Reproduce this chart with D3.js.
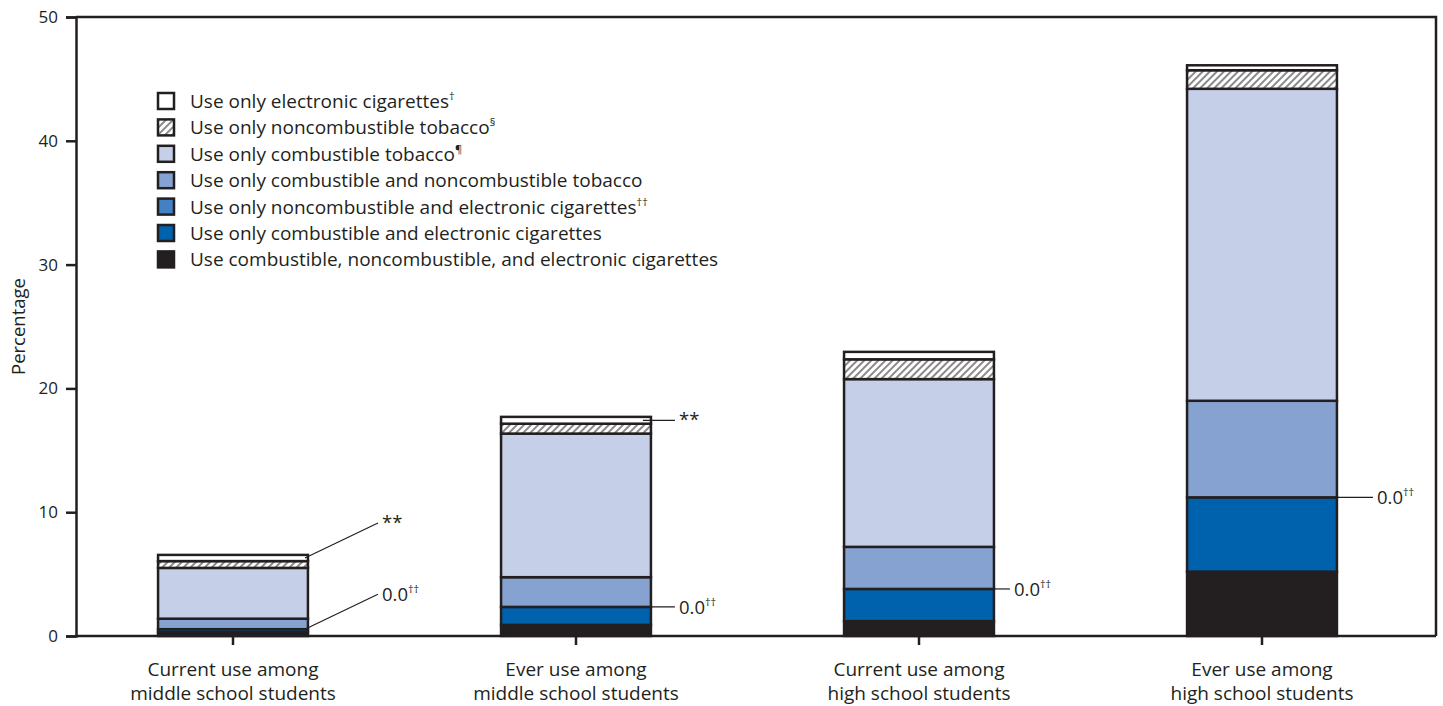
<!DOCTYPE html>
<html>
<head>
<meta charset="utf-8">
<script src="https://cdn.jsdelivr.net/npm/d3@7"></script>
<style>
  body { margin: 0; background: #fff; }
  text { font-family: "Open Sans", "Noto Sans", sans-serif; fill: #231f20; }
</style>
</head>
<body>
<script>
// data
const categories = ['cur_ms', 'ever_ms', 'cur_hs', 'ever_hs'];
const categoryLabels = [
  ['Current use among', 'middle school students'],
  ['Ever use among', 'middle school students'],
  ['Current use among', 'high school students'],
  ['Ever use among', 'high school students']
];
// series, bottom of stack first
const allThree    = [0.3, 0.9, 1.2, 5.2];
const combElec    = [0.25, 1.45, 2.6, 6.0];
const noncombElec = [0.0, 0.0, 0.0, 0.0];
const combNoncomb = [0.85, 2.4, 3.4, 7.8];
const combOnly    = [4.1, 11.6, 13.55, 25.2];
const noncombOnly = [0.55, 0.8, 1.6, 1.5];
const elecOnly    = [0.5, 0.55, 0.6, 0.4];

const seriesKeys = ['allThree', 'combElec', 'noncombElec', 'combNoncomb', 'combOnly', 'noncombOnly', 'elecOnly'];
const seriesValues = [allThree, combElec, noncombElec, combNoncomb, combOnly, noncombOnly, elecOnly];
// legend top to bottom
const legendLabels = [
  ['Use only electronic cigarettes', '†'],
  ['Use only noncombustible tobacco', '§'],
  ['Use only combustible tobacco', '¶'],
  ['Use only combustible and noncombustible tobacco', ''],
  ['Use only noncombustible and electronic cigarettes', '††'],
  ['Use only combustible and electronic cigarettes', ''],
  ['Use combustible, noncombustible, and electronic cigarettes', '']
];
const yTicks = [0, 10, 20, 30, 40, 50];
// annotations: [category index, series key, text, superscript, placement]
const notes = [
  [0, 'elecOnly', '**', '', 'diag'],
  [0, 'noncombElec', '0.0', '††', 'diag'],
  [1, 'elecOnly', '**', '', 'flat'],
  [1, 'noncombElec', '0.0', '††', 'flat'],
  [2, 'noncombElec', '0.0', '††', 'short'],
  [3, 'noncombElec', '0.0', '††', 'long']
];

// set variables
const w = 1443, h = 706;
const pLeft = 76, pRight = 1436, pTop = 17, pBottom = 636;
const ink = '#231f20';
const colors = {
  allThree: ink,
  combElec: '#0061ad',
  noncombElec: '#4380c4',
  combNoncomb: '#85a2d0',
  combOnly: '#c5cfe7',
  noncombOnly: 'url(#hatch)',
  elecOnly: '#ffffff'
};

const table = categories.map((c, i) => {
  const row = { cat: c };
  seriesKeys.forEach((k, j) => { row[k] = seriesValues[j][i]; });
  return row;
});
const stacked = d3.stack().keys(seriesKeys)(table);

const xScale = d3.scaleBand().domain(categories).range([61.5, 1433.5])
  .paddingInner(0.563).paddingOuter(0.2815);
const yScale = d3.scaleLinear().domain([0, 50]).range([pBottom, pTop]);

const svg = d3.select('body').append('svg').attr('width', w).attr('height', h);

const defs = svg.append('defs');
const pat = defs.append('pattern').attr('id', 'hatch').attr('patternUnits', 'userSpaceOnUse')
  .attr('width', 5).attr('height', 5).attr('patternTransform', 'rotate(45)');
pat.append('rect').attr('width', 5).attr('height', 5).attr('fill', '#fff');
pat.append('rect').attr('width', 2).attr('height', 5).attr('fill', '#8a8a8a');

// frame
svg.append('path')
  .attr('d', `M${pLeft},${pTop}H${pRight}V${pBottom}`)
  .attr('fill', 'none').attr('stroke', ink).attr('stroke-width', 2.5);

// bars
svg.append('g').selectAll('g')
  .data(stacked).enter().append('g')
  .attr('fill', d => colors[d.key])
  .selectAll('rect').data(d => d).enter().append('rect')
  .attr('x', d => xScale(d.data.cat))
  .attr('y', d => yScale(d[1]))
  .attr('width', xScale.bandwidth())
  .attr('height', d => yScale(d[0]) - yScale(d[1]))
  .attr('stroke', ink).attr('stroke-width', 2.5);

// axes
const yAxis = d3.axisLeft(yScale).tickValues(yTicks).tickSize(10).tickPadding(8);
const gy = svg.append('g').attr('transform', `translate(${pLeft},0)`).call(yAxis);
gy.select('.domain').attr('stroke', ink).attr('stroke-width', 2.5);
gy.selectAll('.tick line').attr('stroke', ink).attr('stroke-width', 2.5);
gy.selectAll('.tick text').style('font-size', '17px').attr('fill', ink);

const xAxis = d3.axisBottom(xScale).tickSize(9).tickFormat('');
const gx = svg.append('g').attr('transform', `translate(0,${pBottom})`).call(xAxis);
gx.select('.domain').attr('d', `M${pLeft},0H${pRight}`).attr('stroke', ink).attr('stroke-width', 2.5);
gx.selectAll('.tick line').attr('stroke', ink).attr('stroke-width', 2.5);

categories.forEach((c, i) => {
  const t = svg.append('text')
    .attr('x', xScale(c) + xScale.bandwidth() / 2)
    .attr('y', 676)
    .attr('text-anchor', 'middle')
    .style('font-size', '19px');
  categoryLabels[i].forEach((line, j) => {
    t.append('tspan').attr('x', xScale(c) + xScale.bandwidth() / 2)
      .attr('dy', j === 0 ? 0 : 24).text(line);
  });
});

svg.append('text')
  .attr('transform', `translate(25,${(pTop + pBottom) / 2}) rotate(-90)`)
  .attr('text-anchor', 'middle')
  .style('font-size', '18.5px')
  .text('Percentage');

// legend
const legendColors = seriesKeys.slice().reverse().map(k => colors[k]);
const lg = svg.append('g').attr('transform', 'translate(158,93)');
legendLabels.forEach((lab, i) => {
  const row = lg.append('g').attr('transform', `translate(0,${i * 26.4})`);
  row.append('rect').attr('width', 16).attr('height', 16)
    .attr('fill', legendColors[i]).attr('stroke', ink).attr('stroke-width', 2.5);
  const t = row.append('text').attr('x', 32).attr('y', 15).style('font-size', '19px').text(lab[0]);
  if (lab[1]) t.append('tspan').attr('dy', -8).style('font-size', '11px').text(lab[1]);
});

// annotations
const lookup = {};
stacked.forEach(s => { lookup[s.key] = s; });
const place = {
  diag: { x0: -3, dx: 70, dy: -35 },
  flat: { x0: -8, dx: 24, dy: 0 },
  short: { x0: 0, dx: 16, dy: 0 },
  long: { x0: 0, dx: 36, dy: 0 }
};
notes.forEach(n => {
  const seg = lookup[n[1]][n[0]];
  const p = place[n[4]];
  const x0 = xScale(categories[n[0]]) + xScale.bandwidth() + p.x0;
  const y0 = n[2] === '**' ? yScale((seg[0] + seg[1]) / 2) : yScale(seg[1]);
  const x1 = xScale(categories[n[0]]) + xScale.bandwidth() + p.dx;
  const y1 = y0 + p.dy;
  svg.append('line').attr('x1', x0).attr('y1', y0).attr('x2', x1).attr('y2', y1)
    .attr('stroke', ink).attr('stroke-width', 1.2);
  const t = svg.append('text').attr('x', x1 + 4).attr('y', y1 + (n[2] === '**' ? 6 : 7))
    .style('font-size', '18.5px').text(n[2]);
  if (n[3]) t.append('tspan').attr('dy', -8).style('font-size', '11px').text(n[3]);
});
</script>
</body>
</html>
